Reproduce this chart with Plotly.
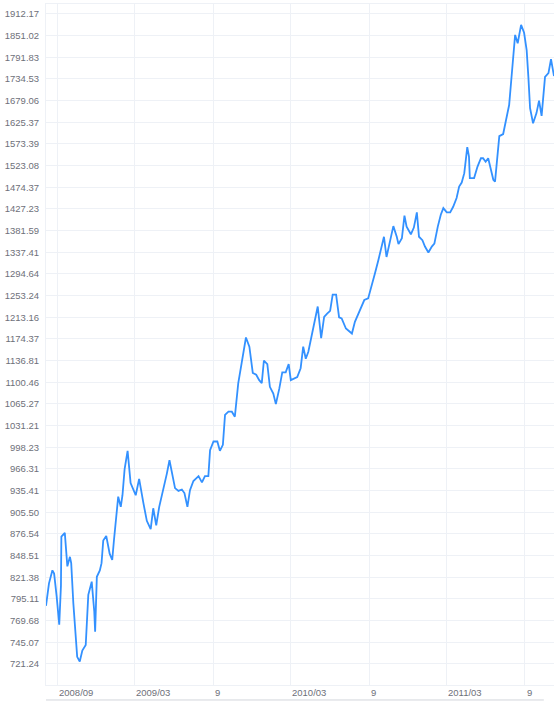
import math
import plotly.graph_objects as go

# weekly-ish closing prices
dates = [
    "2008-08-06", "2008-08-13", "2008-08-21", "2008-08-25", "2008-08-31", "2008-09-06",
    "2008-09-10", "2008-09-11", "2008-09-19", "2008-09-25", "2008-10-01", "2008-10-04",
    "2008-10-09", "2008-10-15", "2008-10-18", "2008-10-24", "2008-10-30", "2008-11-07",
    "2008-11-11", "2008-11-13", "2008-11-21", "2008-11-27", "2008-11-29", "2008-12-03",
    "2008-12-10", "2008-12-14", "2008-12-18", "2008-12-25", "2009-01-02", "2009-01-08",
    "2009-01-12", "2009-01-18", "2009-01-22", "2009-01-28", "2009-02-01", "2009-02-06",
    "2009-02-13", "2009-02-20", "2009-02-24", "2009-03-04", "2009-03-12", "2009-03-17",
    "2009-03-22", "2009-03-30", "2009-04-08", "2009-04-14", "2009-04-21", "2009-04-28",
    "2009-05-06", "2009-05-16", "2009-05-22", "2009-05-28", "2009-06-04", "2009-06-12",
    "2009-06-20", "2009-06-26", "2009-07-03", "2009-07-09", "2009-07-17", "2009-07-29",
    "2009-08-06", "2009-08-13", "2009-08-21", "2009-08-25", "2009-09-02", "2009-09-11",
    "2009-09-17", "2009-09-24", "2009-09-29", "2009-10-07", "2009-10-15", "2009-10-22",
    "2009-10-30", "2009-11-07", "2009-11-17", "2009-11-25", "2009-12-03", "2009-12-11",
    "2009-12-18", "2009-12-24", "2009-12-29", "2010-01-06", "2010-01-12", "2010-01-20",
    "2010-01-26", "2010-02-03", "2010-02-10", "2010-02-18", "2010-02-25", "2010-03-02",
    "2010-03-10", "2010-03-17", "2010-03-25", "2010-03-31", "2010-04-06", "2010-04-12",
    "2010-04-20", "2010-04-28", "2010-05-04", "2010-05-12", "2010-05-19", "2010-05-26",
    "2010-06-02", "2010-06-08", "2010-06-16", "2010-06-23", "2010-06-29", "2010-07-09",
    "2010-07-23", "2010-07-30", "2010-08-11", "2010-08-21", "2010-08-30", "2010-09-07",
    "2010-09-15", "2010-09-23", "2010-10-01", "2010-10-06", "2010-10-12", "2010-10-19",
    "2010-10-28", "2010-11-05", "2010-11-09", "2010-11-17", "2010-11-23", "2010-11-28",
    "2010-12-08", "2010-12-15", "2010-12-22", "2010-12-27", "2011-01-04", "2011-01-10",
    "2011-01-18", "2011-01-26", "2011-02-01", "2011-02-09", "2011-02-16", "2011-02-22",
    "2011-03-02", "2011-03-10", "2011-03-17", "2011-03-25", "2011-03-31", "2011-04-06",
    "2011-04-12", "2011-04-19", "2011-04-23", "2011-04-25", "2011-05-05", "2011-05-13",
    "2011-05-21", "2011-05-26", "2011-06-01", "2011-06-07", "2011-06-13", "2011-06-19",
    "2011-06-23", "2011-06-28", "2011-07-03", "2011-07-12", "2011-07-20", "2011-07-26",
    "2011-08-01", "2011-08-05", "2011-08-09", "2011-08-15", "2011-08-23", "2011-08-30",
    "2011-09-05", "2011-09-09", "2011-09-13", "2011-09-20", "2011-09-28", "2011-10-04",
    "2011-10-10", "2011-10-18", "2011-10-26", "2011-11-01", "2011-11-08",
]
prices = [
    787, 814, 830, 826, 798, 765,
    811, 873, 878, 835, 847, 839,
    790, 755, 729, 724, 736, 742,
    778, 800, 816, 780, 757, 822,
    830, 839, 868, 874, 851, 843,
    868, 909, 927, 913, 929, 966,
    993, 946, 941, 929, 952, 932,
    918, 894, 883, 911, 888, 913,
    932, 960, 979, 960, 939, 935,
    937, 932, 913, 936, 949, 956,
    947, 956, 956, 994, 1007, 1007,
    993, 1002, 1048, 1053, 1053, 1045,
    1099, 1133, 1177, 1161, 1116, 1113,
    1104, 1099, 1137, 1131, 1093, 1082,
    1065, 1090, 1117, 1117, 1131, 1104,
    1106, 1109, 1124, 1161, 1140, 1152,
    1181, 1208, 1233, 1176, 1214, 1220,
    1225, 1255, 1255, 1213, 1211, 1193,
    1184, 1205, 1226, 1245, 1248, 1270,
    1296, 1322, 1349, 1369, 1328, 1355,
    1391, 1369, 1354, 1366, 1413, 1390,
    1374, 1388, 1420, 1369, 1362, 1349,
    1337, 1349, 1355, 1390, 1415, 1429,
    1420, 1420, 1432, 1451, 1476, 1485,
    1506, 1566, 1544, 1495, 1495, 1521,
    1540, 1540, 1532, 1540, 1513, 1491,
    1487, 1544, 1592, 1597, 1639, 1668,
    1745, 1811, 1853, 1830, 1881, 1859,
    1811, 1740, 1660, 1623, 1648, 1679,
    1641, 1740, 1750, 1787, 1742,
]

y_ticks = [
    721.24, 745.07, 769.68, 795.11, 821.38, 848.51, 876.54, 905.50, 935.41, 966.31,
    998.23, 1031.21, 1065.27, 1100.46, 1136.81, 1174.37, 1213.16, 1253.24, 1294.64,
    1337.41, 1381.59, 1427.23, 1474.37, 1523.08, 1573.39, 1625.37, 1679.06, 1734.53,
    1791.83, 1851.02, 1912.17,
]
x_ticks = ["2008-09-01", "2009-03-01", "2009-09-01", "2010-03-01",
           "2010-09-01", "2011-03-01", "2011-09-01"]
x_labels = ["2008/09", "2009/03", "9", "2010/03", "9", "2011/03", "9"]

grid = "#eef1f6"
label_color = "#6e7079"
font = "Liberation Sans, Arial, sans-serif"

step = (math.log10(y_ticks[-1]) - math.log10(y_ticks[0])) / (len(y_ticks) - 1)
y_range = [math.log10(y_ticks[0]) - 0.97 * step, math.log10(y_ticks[-1]) + 0.46 * step]

fig = go.Figure()
fig.add_trace(go.Scatter(
    x=dates, y=prices, mode="lines",
    line=dict(color="#3391ff", width=1.8),
    showlegend=False,
))

fig.update_layout(
    width=554, height=701,
    margin=dict(l=46, r=0, t=4, b=16, autoexpand=False),
    paper_bgcolor="white", plot_bgcolor="white",
    font=dict(family=font, size=9.5, color=label_color),
    xaxis=dict(
        type="date", range=[dates[0], dates[-1]],
        tickvals=x_ticks, showticklabels=False,
        showgrid=True, gridcolor=grid, gridwidth=1,
        showline=True, mirror=True, linecolor=grid, linewidth=1,
        zeroline=False,
    ),
    yaxis=dict(
        type="log", range=y_range,
        tickvals=y_ticks, ticktext=[f"{v:.2f}" for v in y_ticks],
        showgrid=True, gridcolor=grid, gridwidth=1,
        showline=True, linecolor=grid, linewidth=1,
        ticks="", ticklabelstandoff=4,
        tickfont=dict(family=font, size=9.5, color=label_color),
        zeroline=False,
    ),
)

for d, lab in zip(x_ticks, x_labels):
    fig.add_annotation(
        x=d, xref="x", y=0, yref="paper",
        text=lab, showarrow=False,
        xanchor="left", yanchor="top", xshift=0, yshift=0,
        font=dict(family=font, size=9.5, color=label_color),
    )

# border line of the zoom strip under the axis
fig.add_shape(type="line", xref="paper", yref="paper",
              x0=0, x1=0.98, y0=-0.022, y1=-0.022,
              line=dict(color="#d2d5dc", width=1))

fig.write_html("out.html", config={"displayModeBar": False},
               post_script="document.body.style.margin='0';")
